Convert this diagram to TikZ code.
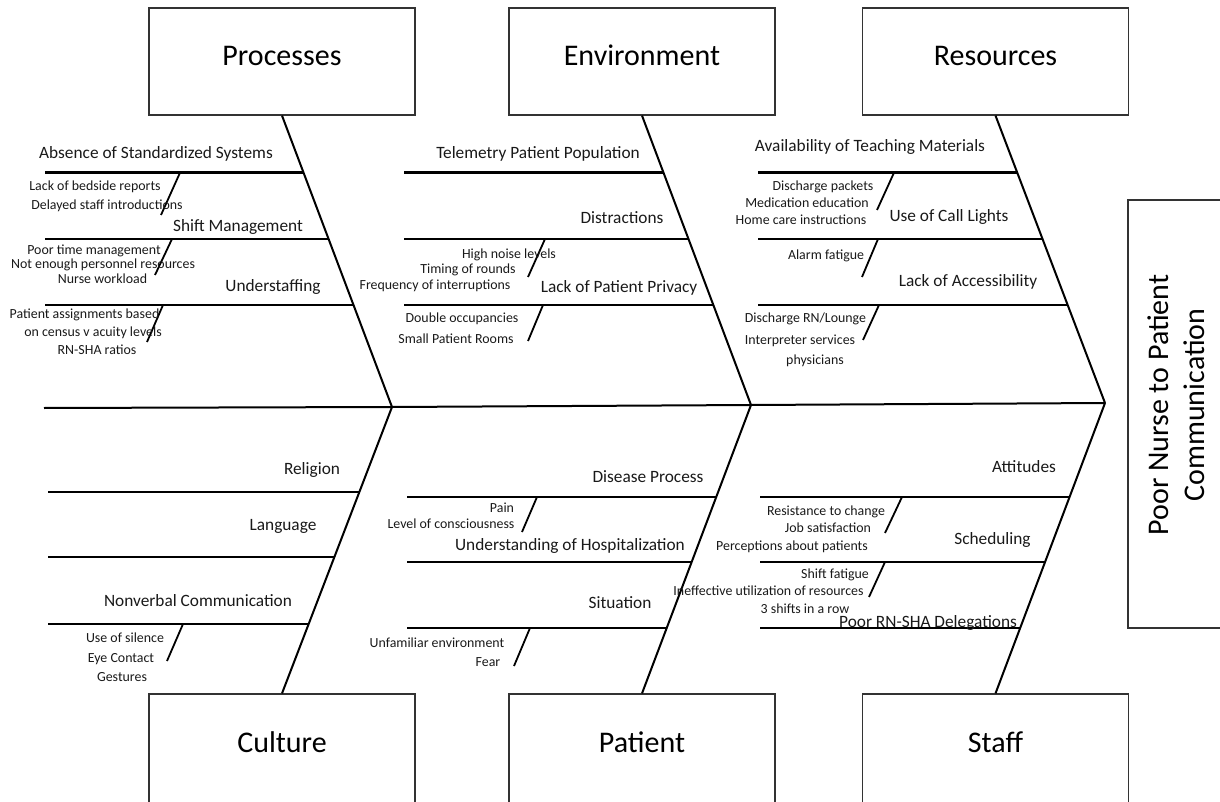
\documentclass[tikz,border=0pt]{standalone}
\usepackage{fontspec}
\setmainfont{Carlito}
\begin{document}
\begin{tikzpicture}[x=1pt,y=-1pt,
 bone/.style={line width=2pt},
 sub/.style={line width=2.4pt},
 twig/.style={line width=1.8pt},
 catbox/.style={draw=black!80, line width=1.2pt, minimum width=266pt, minimum height=107pt, inner sep=0pt, font=\fontsize{30}{36}\selectfont, text height=18pt, text depth=10pt},
 botbox/.style={catbox, minimum height=116pt, text depth=18pt},
 med/.style={inner sep=0pt, font=\fontsize{17.3}{20}\selectfont, text height=10.4pt, text depth=0pt, text=black!90},
 sm/.style={inner sep=0pt, font=\fontsize{13.9}{16}\selectfont, text height=8.3pt, text depth=0pt, text=black!90}]
\useasboundingbox (0,0) rectangle (1220,802);
\clip (0,0) rectangle (1220,802);

% category boxes
\node[catbox] (proc) at (282,61.5) {Processes};
\node[catbox] (env) at (642,61.5) {Environment};
\node[catbox] (res) at (995.5,61.5) {Resources};
\node[botbox] (cult) at (282,752) {Culture};
\node[botbox] (pat) at (642,752) {Patient};
\node[botbox] (staff) at (995.5,752) {Staff};

% effect box
\node[draw=black!80, line width=1.2pt, minimum width=112pt, minimum height=428pt] (effbox) at (1184,414) {};
\node[rotate=90, align=center, inner sep=0pt, font=\fontsize{30}{36}\selectfont] (efftext) at (1176,405) {Poor Nurse to Patient\\Communication};

% spine
\coordinate (tail) at (44,408);
\coordinate (j1) at (392,407);
\coordinate (j2) at (751,405);
\coordinate (head) at (1105,403);
\draw[bone] (tail) -- (j1) -- (j2) -- (head);

% main bones
\draw[bone] (proc.south) -- (j1);
\draw[bone] (env.south) -- (j2);
\draw[bone] (res.south) -- (head);
\draw[bone] (cult.north) -- (j1);
\draw[bone] (pat.north) -- (j2);
\draw[bone] (staff.north) -- (head);

% Processes branches
\draw[sub] (45,172.7) -- (303.7,172.7);
\draw[sub] (45,239) -- (328.7,239);
\draw[sub] (45,305) -- (353.6,305);
\draw[twig] (180,172.7) -- (161,215);
\draw[twig] (172,239) -- (155,275);
\draw[twig] (163,305) -- (147,342);

% Environment branches
\draw[sub] (404,172.7) -- (663.7,172.7);
\draw[sub] (404,239) -- (688.6,239);
\draw[sub] (404,305) -- (713.4,305);
\draw[twig] (545,239) -- (528,277);
\draw[twig] (543,305) -- (528,341);

% Resources branches
\draw[sub] (758,172.7) -- (1017.4,172.7);
\draw[sub] (758,239) -- (1042.6,239);
\draw[sub] (758,305) -- (1067.7,305);
\draw[twig] (894,172.7) -- (877,210);
\draw[twig] (878,239) -- (862,277);
\draw[twig] (879,305) -- (863,340);

% Culture branches
\draw[sub] (48,492) -- (359.4,492);
\draw[sub] (48,557) -- (334.5,557);
\draw[sub] (48,624) -- (308.8,624);
\draw[twig] (183,624) -- (167,661);

% Patient branches
\draw[sub] (407,497) -- (716.3,497);
\draw[sub] (407,562) -- (691.8,562);
\draw[sub] (407,628) -- (666.9,628);
\draw[twig] (537,497) -- (522,532);
\draw[twig] (530,628) -- (514,666);

% Staff branches
\draw[sub] (760,497) -- (1069.6,497);
\draw[sub] (760,562) -- (1045.2,562);
\draw[sub] (760,628) -- (1020.3,628);
\draw[twig] (902,497) -- (885,533);
\draw[twig] (885,562) -- (869,597);

% Processes labels
\node[med] (p1) at (156,153) {Absence of Standardized Systems};
\node[sm] (p1a) at (95,186) {Lack of bedside reports};
\node[sm] (p1b) at (107,205) {Delayed staff introductions};
\node[med] (p2) at (238,226) {Shift Management};
\node[sm] (p2a) at (94,250) {Poor time management};
\node[sm] (p2b) at (103,264) {Not enough personnel resources};
\node[sm] (p2c) at (102.5,279) {Nurse workload};
\node[med] (p3) at (273,286) {Understaffing};
\node[sm] (p3a) at (84.5,314) {Patient assignments based};
\node[sm] (p3b) at (93,332) {on census v acuity levels};
\node[sm] (p3c) at (97,350) {RN-SHA ratios};

% Environment labels
\node[med] (e1) at (538,153) {Telemetry Patient Population};
\node[med] (e2) at (622,218) {Distractions};
\node[sm] (e2a) at (509,254) {High noise levels};
\node[sm] (e2b) at (468,269) {Timing of rounds};
\node[sm] (e2c) at (435,285) {Frequency of interruptions};
\node[med] (e3) at (619,287) {Lack of Patient Privacy};
\node[sm] (e3a) at (462,318) {Double occupancies};
\node[sm] (e3b) at (456,339) {Small Patient Rooms};

% Resources labels
\node[med] (r1) at (870,146) {Availability of Teaching Materials};
\node[sm] (r1a) at (823,186) {Discharge packets};
\node[sm] (r1b) at (807,203) {Medication education};
\node[sm] (r1c) at (801,220) {Home care instructions};
\node[med] (r2) at (949,216) {Use of Call Lights};
\node[sm] (r2a) at (826,255) {Alarm fatigue};
\node[med] (r3) at (968,281) {Lack of Accessibility};
\node[sm] (r3a) at (805.5,318) {Discharge RN/Lounge};
\node[sm] (r3b) at (800,340) {Interpreter services};
\node[sm] (r3c) at (815,360) {physicians};

% Culture labels
\node[med] (c1) at (312,469) {Religion};
\node[med] (c2) at (283,525) {Language};
\node[med] (c3) at (198,601) {Nonverbal Communication};
\node[sm] (c3a) at (125,638) {Use of silence};
\node[sm] (c3b) at (121,658) {Eye Contact};
\node[sm] (c3c) at (122,677) {Gestures};

% Patient labels
\node[med] (t1) at (648,477) {Disease Process};
\node[sm] (t1a) at (502,508) {Pain};
\node[sm] (t1b) at (451,524) {Level of consciousness};
\node[med] (t2) at (570,545) {Understanding of Hospitalization};
\node[med] (t3) at (620,603) {Situation};
\node[sm] (t3a) at (437,643) {Unfamiliar environment};
\node[sm] (t3b) at (488,662) {Fear};

% Staff labels
\node[med] (s1) at (1024,467) {Attitudes};
\node[sm] (s1a) at (826,511) {Resistance to change};
\node[sm] (s1b) at (828,528) {Job satisfaction};
\node[sm] (s1c) at (792,546) {Perceptions about patients};
\node[med] (s2) at (992.5,539) {Scheduling};
\node[sm] (s2a) at (835,574) {Shift fatigue};
\node[sm] (s2b) at (768.5,591) {Ineffective utilization of resources};
\node[sm] (s2c) at (805,609) {3 shifts in a row};
\node[med] (s3) at (928,622) {Poor RN-SHA Delegations};
\end{tikzpicture}
\end{document}
